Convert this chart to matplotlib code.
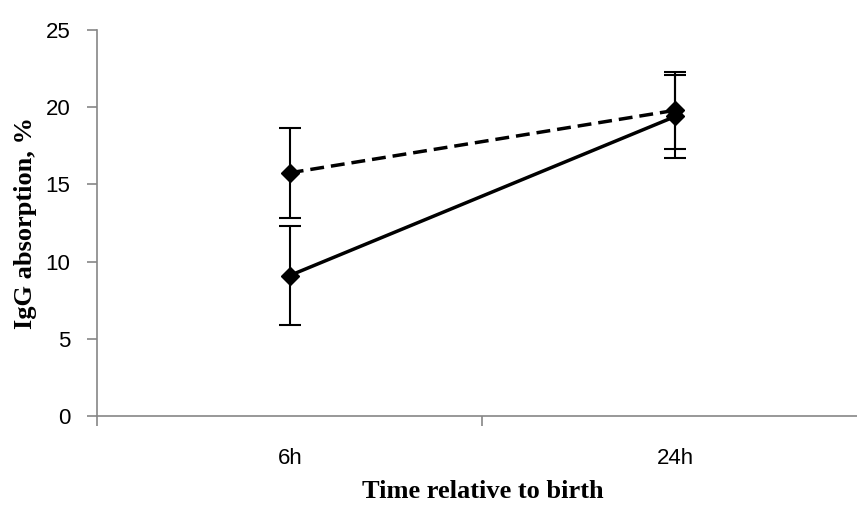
import matplotlib.pyplot as plt

# data
categories = ['6h', '24h']
solid_vals = [9.1, 19.4]
solid_err = [3.2, 2.7]
dashed_vals = [15.75, 19.8]
dashed_err = [2.9, 2.5]
y_ticks = [0, 5, 10, 15, 20, 25]

fig = plt.figure(figsize=(8.57, 5.05), dpi=100)
ax = fig.add_axes([0.1132, 0.1762, 0.8996, 0.7644])

x = list(range(len(categories)))

# two series with error bars
ax.errorbar(x, solid_vals, yerr=solid_err, color='black', lw=2.5,
            marker='D', ms=9, capsize=8, elinewidth=1.5, capthick=1.5,
            zorder=3)
ax.errorbar(x, dashed_vals, yerr=dashed_err, color='black', lw=2.5,
            ls=(0, (4, 2)), marker='D', ms=9, capsize=8, elinewidth=1.5,
            capthick=1.5, zorder=3)

ax.set_xlim(-0.5, len(categories) - 0.5)
ax.set_ylim(0, 25)

# spines like excel
for s in ['top', 'right']:
    ax.spines[s].set_visible(False)
for s in ['left', 'bottom']:
    ax.spines[s].set_color('#868686')
    ax.spines[s].set_linewidth(1.2)

ax.set_yticks(y_ticks)
ax.set_yticklabels([str(v) for v in y_ticks], fontsize=16,
                   family='Liberation Sans')
ax.tick_params(axis='y', direction='out', length=7, width=1.2,
               color='#868686', pad=12)

# category boundaries as major ticks, labels at centres
ax.set_xticks([i - 0.5 for i in range(len(categories) + 1)])
ax.set_xticklabels([])
ax.tick_params(axis='x', which='major', direction='out', length=7,
               width=1.2, color='#868686')
ax.set_xticks(x, minor=True)
ax.set_xticklabels(categories, minor=True, fontsize=16,
                   family='Liberation Sans')
ax.tick_params(axis='x', which='minor', length=0, pad=23)

ax.set_ylabel('IgG absorption, %', fontsize=19, fontweight='bold',
              family='Liberation Serif')
ax.yaxis.set_label_coords(-0.078, 0.5)
ax.set_xlabel('Time relative to birth', fontsize=19, fontweight='bold',
              family='Liberation Serif')
ax.xaxis.set_label_coords(0.5, -0.165)

fig.savefig('out.png', dpi=100)
